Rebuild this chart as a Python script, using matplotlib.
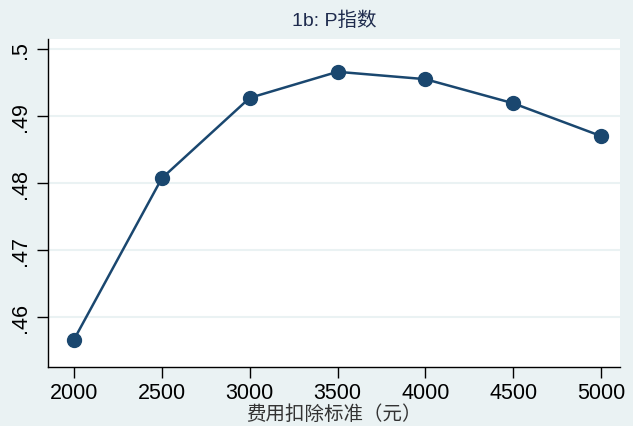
import matplotlib
matplotlib.use('Agg')
import matplotlib.pyplot as plt

# deduction standard (yuan) and P index
deduction = [2000, 2500, 3000, 3500, 4000, 4500, 5000]
p_index = [0.4566, 0.4807, 0.4927, 0.4966, 0.4955, 0.4919, 0.4870]
y_ticks = [0.46, 0.47, 0.48, 0.49, 0.50]
y_tick_labels = ['.46', '.47', '.48', '.49', '.5']

bg = '#EAF2F3'
navy = '#1A476F'

plt.rcParams['font.family'] = ['Liberation Sans', 'Noto Sans CJK SC', 'DejaVu Sans']

fig = plt.figure(figsize=(6.33, 4.27), dpi=100, facecolor=bg)
ax = fig.add_axes([48 / 633, 1 - 368 / 427, 572 / 633, 328 / 427])
ax.set_facecolor('white')

ax.plot(deduction, p_index, color=navy, linewidth=1.8, marker='o',
        markersize=10, markerfacecolor=navy, markeredgecolor=navy, zorder=3)

ax.set_xlim(1852, 5108)
ax.set_ylim(0.4525, 0.5015)
ax.set_xticks(deduction)
ax.set_yticks(y_ticks)
ax.set_yticklabels(y_tick_labels, rotation=90, va='center')
ax.grid(axis='y', color=bg, linewidth=1.5)
ax.grid(axis='x', visible=False)
ax.set_axisbelow(True)

for s in ['top', 'right']:
    ax.spines[s].set_visible(False)
for s in ['left', 'bottom']:
    ax.spines[s].set_color('black')
    ax.spines[s].set_linewidth(1.0)

ax.tick_params(axis='both', labelsize=15.5, length=8, width=1, color='black')
ax.tick_params(axis='y', pad=4)
ax.tick_params(axis='x', pad=3)

ax.set_title('1b: P指数', fontsize=14, color='#1E2B4D', pad=10,
             family=['Liberation Sans', 'Noto Sans CJK SC'])
ax.set_xlabel('费用扣除标准（元）', fontsize=14, color='#333333', labelpad=0,
              family=['Noto Sans CJK SC', 'DejaVu Sans'])

fig.savefig('out.png', dpi=100, facecolor=bg)
